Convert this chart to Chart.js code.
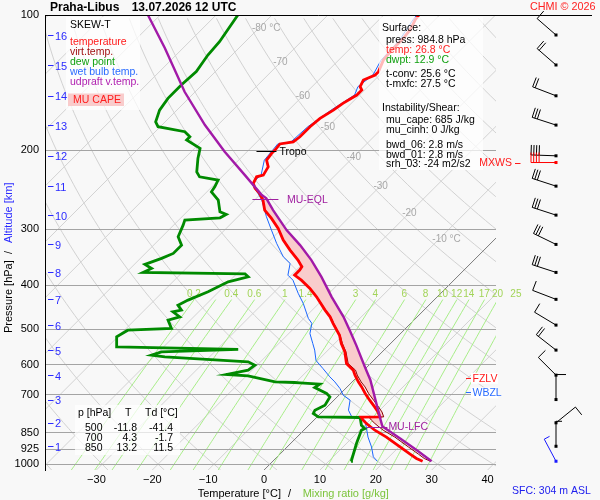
<!DOCTYPE html>
<html><head><meta charset="utf-8">
<script src="https://cdn.jsdelivr.net/npm/chart.js@4.4.1/dist/chart.umd.min.js"></script>
<style>html,body{margin:0;padding:0;background:#f8f8f8;}canvas{display:block;}</style>
</head><body>
<canvas id="c" width="600" height="500"></canvas>
<script>
// ---------------- data ----------------
const tempP = [984.8,970.9,949.7,915.2,870,840,811.5,797.8,785.5,784.5,764.8,745.5,720.1,695.7,672.8,655.7,633.4,617.5,596.9,562,538.8,516.4,485.7,469.7,453.9,424,406,389.3,379.4,369.7,363.5,351.2,333.7,317.1,298.6,283.6,271.8,258.2,249.5,243.2,237.1,229.2,227.2,217.8,210.4,203.2,199.8,193.7,191.6,186.7,177.3,169.9,162.8,157.3,150.7,146.9,144.4,139.6,136,133.7,126,119.7,113.7,108,102.6,100];
const tempT = [26.8,25.2,23.3,20.2,16.0,12.7,10.0,8.8,7.9,11.2,10.0,8.5,6.4,4.4,2.6,1.1,-0.7,-1.9,-4.3,-6.7,-8.8,-10.6,-13.9,-15.6,-17.7,-21.6,-24.3,-27.3,-29.4,-29.4,-29.6,-31.5,-34.7,-37.7,-40.7,-43.7,-46.4,-48.5,-50.3,-52.0,-53.2,-53.8,-52.9,-53.5,-55.0,-55.3,-55.3,-55.5,-53.5,-53.2,-53.2,-52.9,-52.0,-51.5,-50.5,-50.5,-51.4,-52.0,-50.8,-50.8,-52.0,-52.3,-52.3,-52.6,-53.5,-53.7];

const virtP = [984.8,970.9,949.7,915.2,870,840,811.5,797.8,785.5,784.5,764.8,745.5,720.1,695.7,672.8,655.7,633.4,617.5,596.9,562,538.8,516.4,485.7,469.7,453.9,424,406,389.3,379.4,369.7,363.5,351.2,333.7,317.1,298.6,283.6,271.8,258.2];
const virtT = [28.2,26.6,24.8,21.7,17.5,14.2,11.5,10.3,9.3,11.9,10.7,9.2,7.1,5.0,3.2,1.6,-0.3,-1.5,-4.0,-6.5,-8.6,-10.5,-13.8,-15.5,-17.6,-21.5,-24.2,-27.2,-29.3,-29.3,-29.5,-31.4,-34.6,-37.6,-40.7,-43.7,-46.4,-48.5];

const dewP = [984.8,979.7,899.3,840,832.7,818.7,787,784.6,771.1,758.1,738.9,708.1,695.9,674.8,663.4,659,657.7,655.7,635.8,631.3,617.5,601.9,591.7,576.8,571.8,562.2,555.3,548,520.6,503.1,498.6,477.8,469.8,457.9,453.9,442.5,431.2,413.3,392.6,382.7,376.9,374.1,366.6,359.1,348.2,339.4,325.3,311.7,293.6,286.1,282.8,277.9,274.2,258.2,247.5,241.2,233.1,229.2,223.4,208.5,198.1,189.8,186.7,181.9,177.3,172.9,162.8,153.3,143.2,133.7,122.8,114.7,100];
const dewT = [14.0,13.9,11.8,10.3,10.6,9.4,7.8,0.2,-1.3,-1.6,-0.7,-1.3,-2.5,-5.7,-5.4,-9.2,-10.2,-13.8,-19.7,-23.8,-20.7,-20.4,-22.2,-38.0,-40.7,-39.5,-26.2,-48.4,-50.2,-49.4,-41.9,-44.0,-42.5,-44.6,-43.4,-44.9,-44.0,-41.9,-40.1,-37.4,-38.5,-57.0,-56.2,-58.1,-56.2,-55.0,-55.0,-57.1,-58.3,-58.9,-53.0,-52.5,-54.1,-56.5,-59.2,-59.5,-60.1,-64.0,-65.4,-67.6,-69.0,-72.9,-72.9,-74.7,-80.4,-81.7,-83.1,-83.7,-83.7,-83.4,-84.3,-84.6,-86.1];

const wetP = [984.8,962.9,915.2,870,826.4,797.8,784.6,758.1,720.1,702.2,678.3,655.7,639,612.5,587.6,557.1,538.8,511.9,485.7,473.6,438.5,416.5,389.3,379.4,357.3,345.4,322.4,301.2,281.2,258.2,249.5,237.1,227.2,210.4,199.8,193.7,191.6,177.3,162.8,150.7,144.4,136,126,113.7,102.6,100];
const wetT = [18.7,17.2,15.1,12.7,10.6,9.1,6.2,4.4,2.9,0.8,-1.0,-3.1,-4.9,-7.6,-10.3,-12.4,-13.9,-16.2,-17.7,-19.2,-22.8,-25.5,-28.8,-30.6,-32.3,-34.7,-38.3,-41.6,-44.9,-48.7,-50.6,-53.5,-53.3,-55.4,-55.7,-55.9,-53.9,-53.6,-52.4,-50.9,-51.8,-51.2,-52.4,-52.7,-53.9,-54.1];

const parcelP = [984.8,930.8,876,824.1,784.6,707.9,649.1,607.3,543.7,503,469.7,424,382.7,351.2,325.3,301.2,271.8,256,251.7,227.2,201.5,175.8,148.2,118.6,100];
const parcelT = [28.4,23.8,18.7,13.4,11.2,6.7,2.9,-0.4,-5.8,-9.7,-13.2,-18.9,-24.3,-29.1,-33.8,-38.9,-44.9,-48.2,-49.6,-56.2,-64.0,-72.3,-81.9,-93.2,-102.2];

// levels (km ASL) with their pressures, winds
const levelKm  = [1,2,3,4,5,6,7,8,9,10,11,12,13,14,15,16];
const levelP   = [912.1,808.7,717.8,633.4,557.1,490.1,429.5,374.1,324.1,278.9,240.4,205.8,175.8,151.3,129.2,110.8];
const windDir  = [0,51,0,315,308,301,291,288,296,288,288,272,288,291,311,311];
const windKt   = [5,10,10,10,20,10,10,30,30,30,30,40,30,20,20,10];
const mxwsP = 213, mxwsDir = 270, mxwsKt = 40;
const sfcP = 984.8, sfcDir = 332, sfcKt = 5;

// special levels
const lfcP = 824.5, lfcT = 13.4;
const eqlP = 256, eqlT = -48.4;
const tropoP = 200.3, tropoT = -55.3;
const fzlvP = 642, wbzlP = 692;

// axes / grid
const PMAX = 1030;
const pressureTicks = [100,200,300,400,500,600,700,850,925,1000];
const tempTicks = [-30,-20,-10,0,10,20,30,40];
const isoLabelT = [-80,-70,-60,-50,-40,-30,-20,-10];
const isoLabelP = [106.9,127.7,151.5,177.6,207.1,240.2,276.1,315];
const mixingRatios = [0.2,0.3,0.4,0.6,1,1.4,2,3,4,6,8,10,12,14,17,20,25];
const mixingLabels = [0.2,0.4,0.6,1,1.4,2,3,4,6,8,10,12,14,17,20,25];

// tables of text
const tableP = [500,700,850];
const tableT = [-11.8,4.3,13.2];
const tableTd = [-41.4,-1.7,11.5];
const surfaceInfo = [
  ['Surface:', '#000', 0, 28.3],
  ['press: 984.8 hPa', '#000', 4, 40],
  ['temp: 26.8 \u00B0C', '#ff2020', 4, 50],
  ['dwpt: 12.9 \u00B0C', '#10a010', 4, 60],
  ['t-conv: 25.6 \u00B0C', '#000', 4, 74],
  ['t-mxfc: 27.5 \u00B0C', '#000', 4, 84.3],
  ['Instability/Shear:', '#000', 0, 108.3],
  ['mu_cape: 685 J/kg', '#000', 4, 120],
  ['mu_cinh: 0 J/kg', '#000', 4, 130],
  ['bwd_06: 2.8 m/s', '#000', 4, 145],
  ['bwd_01: 2.8 m/s', '#000', 4, 155],
  ['srh_03: -24 m2/s2', '#000', 4, 164.3]
];
const legendItems = [
  ['SKEW-T', '#000', 25],
  ['temperature', '#ff1a1a', 42.3],
  ['virt.temp.', '#a01010', 52.3],
  ['dew point', '#10a010', 62],
  ['wet bulb temp.', '#2a6cff', 72],
  ['udpraft v.temp.', '#b020b0', 82]
];

// ---------------- helpers ----------------
const K = 34.91;
const skewX = (p, T) => T + K * Math.log(PMAX / p);
const toPts = (P, T) => P.map((p, i) => ({x: skewX(p, T[i]), y: p}));
const FONT = 'Liberation Sans, Arial, sans-serif';
Chart.defaults.font.family = FONT;

// CAPE area: parcel from LFC to EQL, back along virtual temperature
const capePts = [];
parcelP.forEach((p, i) => { if (p <= lfcP && p >= eqlP) capePts.push({x: skewX(p, parcelT[i]), y: p}); });
for (let i = virtP.length - 1; i >= 0; i--) { const p = virtP[i]; if (p <= lfcP && p >= eqlP) capePts.push({x: skewX(p, virtT[i]), y: p}); }

function tdFromMix(w, p) {
  const e = w * p / (622 + w);
  const l = Math.log(e / 6.112);
  return 243.5 * l / (17.67 - l);
}

function drawBarb(ctx, x, y, dir, kt, color) {
  const r = dir * Math.PI / 180;
  const ux = Math.sin(r), uy = -Math.cos(r);
  const L = 25;
  const ex = x + ux * L, ey = y + uy * L;
  const fx = -uy, fy = ux;
  ctx.save();
  ctx.strokeStyle = color; ctx.lineWidth = 1;
  ctx.beginPath();
  ctx.moveTo(x, y); ctx.lineTo(ex, ey);
  let n = Math.floor(kt / 10), half = (kt % 10) >= 5;
  let pos = 0;
  for (let i = 0; i < n; i++) {
    const bx = ex - ux * pos, by = ey - uy * pos;
    ctx.moveTo(bx, by); ctx.lineTo(bx + fx * 10, by + fy * 10);
    pos += 2.7;
  }
  if (half) {
    const bx = ex - ux * pos, by = ey - uy * pos;
    ctx.moveTo(bx, by); ctx.lineTo(bx + fx * 6, by + fy * 6);
  }
  ctx.stroke();
  ctx.fillStyle = color;
  ctx.fillRect(x - 1.5, y - 1.5, 3, 3);
  ctx.restore();
}

const skewPlugin = {
  id: 'skew',
  beforeDraw(chart) {
    const {ctx, chartArea: a, scales: {x, y}} = chart;
    const px = (p, T) => x.getPixelForValue(skewX(p, T));
    const py = p => y.getPixelForValue(p);
    ctx.save();
    ctx.fillStyle = '#f8f8f8';
    ctx.fillRect(0, 0, chart.width, chart.height);
    ctx.beginPath(); ctx.rect(a.left, a.top, a.right - a.left, a.bottom - a.top); ctx.clip();
    ctx.lineWidth = 1;
    // dry adiabats
    ctx.strokeStyle = '#d2d2d2';
    for (let th = -40; th <= 200; th += 10) {
      ctx.beginPath();
      for (let p = PMAX; p >= 99; p *= 0.97) {
        const T = (th + 273.15) * Math.pow(p / 1000, 0.2857) - 273.15;
        const X = px(p, T), Y = py(p);
        if (p === PMAX) ctx.moveTo(X, Y); else ctx.lineTo(X, Y);
      }
      ctx.stroke();
    }
    // isotherms
    for (let T = -140; T <= 40; T += 10) {
      ctx.strokeStyle = T === 0 ? '#7a7a7a' : '#d2d2d2';
      ctx.beginPath(); ctx.moveTo(px(PMAX, T), py(PMAX)); ctx.lineTo(px(100, T), py(100)); ctx.stroke();
    }
    // mixing ratio lines
    ctx.strokeStyle = '#a8ee88';
    mixingRatios.forEach(w => {
      ctx.beginPath();
      let first = true;
      for (let p = PMAX; p >= 430; p -= 10) {
        const X = px(p, tdFromMix(w, p)), Y = py(p);
        if (first) { ctx.moveTo(X, Y); first = false; } else ctx.lineTo(X, Y);
      }
      ctx.stroke();
    });
    ctx.restore();
    // isotherm labels & mixing ratio labels
    ctx.save();
    ctx.font = '10px ' + FONT;
    ctx.fillStyle = '#a8a8a8';
    ctx.textBaseline = 'middle'; ctx.textAlign = 'left';
    isoLabelT.forEach((T, i) => {
      const p = isoLabelP[i];
      const txt = (T === -80 || T === -10) ? (T + ' \u00B0C') : String(T);
      ctx.fillText(txt, px(p, T) - 7, py(p));
    });
    ctx.fillStyle = '#a2d458';
    ctx.textAlign = 'center';
    mixingLabels.forEach(w => {
      ctx.fillText(String(w), px(431, tdFromMix(w, 431)), 294.5);
    });
    ctx.restore();
  },
  afterDatasetsDraw(chart) {
    const {ctx, chartArea: a, scales: {x, y}} = chart;
    const px = (p, T) => x.getPixelForValue(skewX(p, T));
    const py = p => y.getPixelForValue(p);
    ctx.save();
    // top border
    ctx.strokeStyle = '#000'; ctx.lineWidth = 1;
    ctx.beginPath(); ctx.moveTo(a.left, Math.round(a.top) + 0.5); ctx.lineTo(592, Math.round(a.top) + 0.5); ctx.stroke();
    // boxes
    ctx.fillStyle = 'rgba(255,255,255,0.72)';
    ctx.fillRect(379, 17, 104, 153);
    ctx.fillRect(66, 17, 74, 93);
    ctx.fillRect(75, 405, 105, 50);
    ctx.font = '10.5px ' + FONT;
    ctx.textBaseline = 'middle';
    // legend
    ctx.textAlign = 'left';
    legendItems.forEach(([t, c, yy]) => { ctx.fillStyle = c; ctx.fillText(t, 70, yy); });
    ctx.fillStyle = '#f9cccc';
    ctx.fillRect(68, 93.5, 56, 12.5);
    ctx.fillStyle = '#ff2020';
    ctx.textAlign = 'center';
    ctx.fillText('MU CAPE', 97, 100.5);
    // surface info
    ctx.textAlign = 'left';
    surfaceInfo.forEach(([t, c, dx, yy]) => { ctx.fillStyle = c; ctx.fillText(t, 382 + dx, yy); });
    // table
    ctx.fillStyle = '#000';
    ctx.fillText('p [hPa]', 78, 413.5);
    ctx.fillText('T', 125, 413.5);
    ctx.fillText('Td [\u00B0C]', 145, 413.5);
    ctx.textAlign = 'right';
    tableP.forEach((p, i) => {
      const yy = 428.3 + i * 10;
      ctx.fillText(String(p), 102.5, yy);
      ctx.fillText(tableT[i].toFixed(1), 137, yy);
      ctx.fillText(tableTd[i].toFixed(1), 173, yy);
    });
    // tropopause
    let xx = px(tropoP, tropoT), yy = py(tropoP);
    ctx.strokeStyle = '#000';
    ctx.beginPath(); ctx.moveTo(xx - 18, Math.round(yy) + 0.5); ctx.lineTo(xx + 2, Math.round(yy) + 0.5); ctx.stroke();
    ctx.textAlign = 'left'; ctx.fillStyle = '#000';
    ctx.fillText('Tropo', xx + 5, yy + 1.5);
    // EQL
    xx = px(eqlP + 1, eqlT); yy = py(eqlP + 1);
    ctx.strokeStyle = '#a020a0';
    ctx.beginPath(); ctx.moveTo(xx - 12, Math.round(yy) + 0.5); ctx.lineTo(xx + 14, Math.round(yy) + 0.5); ctx.stroke();
    ctx.fillStyle = '#a020a0';
    ctx.fillText('MU-EQL', xx + 22.5, yy + 0.5);
    // LFC
    xx = px(lfcP, lfcT); yy = py(lfcP);
    ctx.beginPath(); ctx.moveTo(xx - 16, Math.round(yy) + 0.5); ctx.lineTo(xx + 5, Math.round(yy) + 0.5); ctx.stroke();
    ctx.fillText('MU-LFC', xx + 6, yy + 1);
    // FZLV / WBZL
    [[fzlvP, 'FZLV', '#ff1a1a'], [wbzlP, 'WBZL', '#2a6cff']].forEach(([p, t, c]) => {
      const yv = py(p);
      ctx.fillStyle = '#ffffff';
      ctx.fillRect(471, yv - 5, 27, 11);
      ctx.strokeStyle = c;
      ctx.beginPath(); ctx.moveTo(466, Math.round(yv) + 0.5); ctx.lineTo(471, Math.round(yv) + 0.5); ctx.stroke();
      ctx.fillStyle = c;
      ctx.fillText(t, 472.5, yv + 1);
    });
    // altitude ticks
    ctx.font = '11px ' + FONT;
    ctx.strokeStyle = '#2b2bff'; ctx.fillStyle = '#2b2bff';
    levelKm.forEach((km, i) => {
      const yv = py(levelP[i]);
      ctx.beginPath(); ctx.moveTo(48, Math.round(yv) + 0.5); ctx.lineTo(53.5, Math.round(yv) + 0.5); ctx.stroke();
      ctx.fillText(String(km), 55, yv + 1.5);
    });
    // wind barbs
    const bx = 556;
    levelKm.forEach((km, i) => drawBarb(ctx, bx, py(levelP[i]), windDir[i], windKt[i], '#000'));
    drawBarb(ctx, bx, py(mxwsP), mxwsDir, mxwsKt, '#ff0000');
    drawBarb(ctx, bx, py(sfcP), sfcDir, sfcKt, '#1a1aff');
    // MXWS label
    const ym = py(mxwsP);
    ctx.strokeStyle = '#ff1a1a'; ctx.fillStyle = '#ff1a1a';
    ctx.beginPath(); ctx.moveTo(515, Math.round(ym) + 0.5); ctx.lineTo(520.5, Math.round(ym) + 0.5); ctx.stroke();
    ctx.font = '10.5px ' + FONT;
    ctx.textAlign = 'right';
    ctx.fillText('MXWS', 512, ym + 1);
    // titles
    ctx.textAlign = 'left';
    ctx.font = 'bold 12px ' + FONT; ctx.fillStyle = '#000';
    ctx.fillText('Praha-Libus', 50, 7.5);
    ctx.fillText('13.07.2026 12 UTC', 131.7, 7.5);
    ctx.font = '10.8px ' + FONT; ctx.fillStyle = '#ff2020';
    ctx.fillText('CHMI \u00A9 2026', 530, 7.5);
    ctx.font = '11px ' + FONT;
    ctx.fillStyle = '#000';
    ctx.fillText('Temperature [\u00B0C]', 197.7, 493.5);
    ctx.fillText('/', 288, 493.5);
    ctx.fillStyle = '#7cc43c';
    ctx.fillText('Mixing ratio [g/kg]', 302.7, 493.5);
    ctx.fillStyle = '#2020ee';
    ctx.font = '10.5px ' + FONT;
    ctx.fillText('SFC: 304 m ASL', 512, 491.5);
    // y axis title (rotated)
    ctx.translate(9, 333);
    ctx.rotate(-Math.PI / 2);
    ctx.font = '11px ' + FONT;
    ctx.fillStyle = '#000';
    ctx.fillText('Pressure [hPa]', 0, 0);
    ctx.fillText('/', 79, 0);
    ctx.fillStyle = '#2b2bff';
    ctx.fillText('Altitude [km]', 90, 0);
    ctx.restore();
  }
};

const line = (data, color, width, order) => ({data, showLine: true, borderColor: color, borderWidth: width, pointRadius: 0, fill: false, order, tension: 0});

new Chart(document.getElementById('c'), {
  type: 'scatter',
  data: {
    datasets: [
      {data: capePts, showLine: true, fill: 'shape', backgroundColor: '#f9cccc', borderWidth: 0, borderColor: 'rgba(0,0,0,0)', pointRadius: 0, order: 10},
      line(toPts(wetP, wetT), '#1a66ff', 1, 6),
      line(toPts(dewP, dewT), '#008a00', 2.8, 5),
      line(toPts(virtP, virtT), '#8b0000', 1, 4),
      line(toPts(tempP, tempT), '#ff0000', 2.8, 3),
      line(toPts(parcelP, parcelT), '#a21aa8', 2.4, 2)
    ]
  },
  options: {
    responsive: false,
    animation: false,
    events: [],
    layout: {padding: {top: 15, right: 104, left: 0, bottom: 0}},
    plugins: {legend: {display: false}, tooltip: {enabled: false}, title: {display: false}},
    scales: {
      x: {
        type: 'linear', min: -39.2, max: 41.5,
        afterBuildTicks: s => { s.ticks = tempTicks.map(v => ({value: v})); },
        afterFit: s => { s.height = 30; },
        grid: {display: false, drawTicks: false}, border: {display: false},
        ticks: {callback: v => String(v).replace('-', '\u2212'), font: {size: 11}, color: '#000', padding: 3, maxRotation: 0, autoSkip: false}
      },
      y: {
        type: 'logarithmic', reverse: true, min: 100, max: PMAX,
        afterBuildTicks: s => { s.ticks = pressureTicks.map(v => ({value: v})); },
        afterFit: s => { s.width = 45; },
        grid: {color: '#a4a4a4', drawTicks: false, lineWidth: 1},
        border: {color: '#000', width: 1},
        ticks: {callback: v => String(v), font: {size: 11}, color: '#000', padding: 6, autoSkip: false}
      }
    }
  },
  plugins: [skewPlugin]
});
</script>
</body></html>
